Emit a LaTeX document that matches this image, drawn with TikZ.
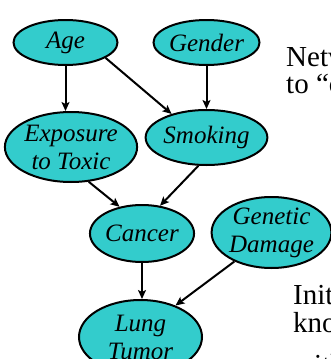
\documentclass[tikz,border=0pt]{standalone}
\usepackage{fontspec}
\setmainfont{Liberation Serif}
\usetikzlibrary{shapes.geometric,arrows.meta}
\definecolor{teal1}{HTML}{33CCCC}
\tikzset{
  bn/.style={ellipse, draw=black, line width=2pt, fill=teal1, inner sep=0pt,
    align=center, font=\fontsize{25}{28}\selectfont\itshape},
  edge/.style={line width=2pt, -{Stealth[length=9pt,width=8pt,inset=2pt]}},
  side/.style={anchor=base west, inner sep=0pt, font=\fontsize{29}{28}\selectfont}
}
\begin{document}
\begin{tikzpicture}[x=1pt,y=-1pt]
\useasboundingbox (0,0) rectangle (331,359);
\node[bn, minimum width=104pt, minimum height=45pt] (age) at (65.5,42.5) {Age};
\node[bn, minimum width=105pt, minimum height=45pt] (gen) at (206.5,42.5) {Gender};
\node[bn, minimum width=122pt, minimum height=70pt] (exp) at (71,147) {Exposure\\to Toxic};
\node[bn, minimum width=105pt, minimum height=55pt] (smo) at (206.5,137.5) {Smoking};
\node[bn, minimum width=98pt, minimum height=57pt] (can) at (142,233.5) {Cancer};
\node[bn, minimum width=117pt, minimum height=71pt] (gd) at (271.5,232.5) {Genetic\\Damage};
\node[bn, minimum width=123pt, minimum height=74pt] (lt) at (140.5,337) {Lung\\Tumor};
\draw[edge] (age.south) -- (age.south |- exp.north);
\draw[edge] (age.-21) -- (smo.146);
\draw[edge] (gen.south) -- (smo.north);
\draw[edge] (exp.-63) -- (can.130);
\draw[edge] (smo.-106) -- (can.57);
\draw[edge] (can.south) -- (can.south |- lt.north);
\draw[edge] (gd.-142) -- (lt.42);
\node[side] (t1) at (286,66) {Netw};
\node[side] (t2) at (286,93) {to “c};
\node[side] (t3) at (293,304) {Init};
\node[side] (t4) at (293,332) {kno};
\node[side] (t5) at (293,374) {with};
\end{tikzpicture}
\end{document}
